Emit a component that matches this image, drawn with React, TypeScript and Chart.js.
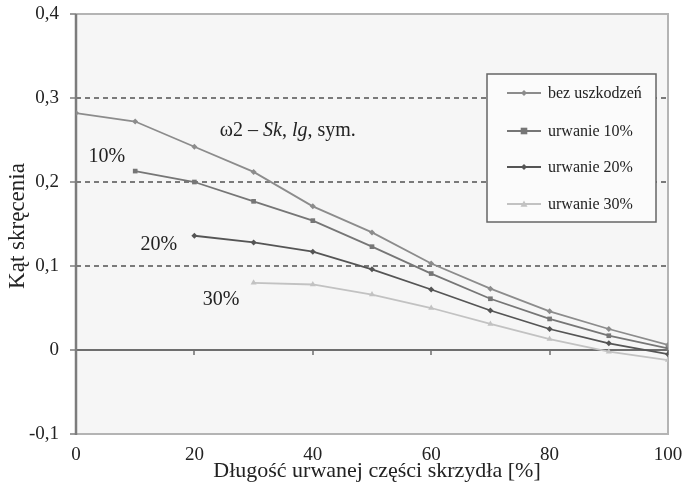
import React, { useEffect, useRef } from "react";
import { Chart, registerables } from "chart.js";

Chart.register(...registerables);

const xValues = [0, 10, 20, 30, 40, 50, 60, 70, 80, 90, 100];
const seriesNames = ["bez uszkodzeń", "urwanie 10%", "urwanie 20%", "urwanie 30%"];
const bezUszkodzen = [0.282, 0.272, 0.242, 0.212, 0.171, 0.140, 0.103, 0.073, 0.046, 0.025, 0.006];
const urwanie10 = [null, 0.213, 0.200, 0.177, 0.154, 0.123, 0.091, 0.061, 0.037, 0.017, 0.002];
const urwanie20 = [null, null, 0.136, 0.128, 0.117, 0.096, 0.072, 0.047, 0.025, 0.008, -0.005];
const urwanie30 = [null, null, null, 0.080, 0.078, 0.066, 0.050, 0.031, 0.013, -0.002, -0.012];
const yTicks = [-0.1, 0, 0.1, 0.2, 0.3, 0.4];
const dashedLevels = [0.1, 0.2, 0.3];
const xTitle = "Długość urwanej części skrzydła [%]";
const yTitle = "Kąt skręcenia";
const curveLabels = [
  { text: "10%", x: 5.2, y: 0.23 },
  { text: "20%", x: 14, y: 0.125 },
  { text: "30%", x: 24.5, y: 0.06 },
];

const FONT = '"Liberation Serif", "Times New Roman", serif';

const toPoints = (arr: (number | null)[]) =>
  xValues.map((x, i) => ({ x, y: arr[i] as any }));

const styles = [
  { color: "#8c8c8c", point: "rectRot", r: 3 },
  { color: "#767676", point: "rect", r: 3.3 },
  { color: "#555555", point: "rectRot", r: 3 },
  { color: "#c2c2c2", point: "triangle", r: 3.5 },
];

const decor = {
  id: "decor",
  beforeDatasetsDraw(chart: any) {
    const { ctx, chartArea: a, scales } = chart;
    const xs = scales.x, ys = scales.y;
    ctx.save();
    ctx.fillStyle = "#f6f6f6";
    ctx.fillRect(a.left, a.top, a.right - a.left, a.bottom - a.top);
    // outer frame
    ctx.strokeStyle = "#b4b4b4";
    ctx.lineWidth = 2;
    ctx.beginPath();
    ctx.moveTo(a.left, a.top);
    ctx.lineTo(a.right, a.top);
    ctx.lineTo(a.right, a.bottom);
    ctx.lineTo(a.left, a.bottom);
    ctx.stroke();
    // dashed lines
    ctx.strokeStyle = "#7a7a7a";
    ctx.lineWidth = 2;
    ctx.setLineDash([5, 4]);
    for (const v of dashedLevels) {
      const y = Math.round(ys.getPixelForValue(v));
      ctx.beginPath();
      ctx.moveTo(a.left, y);
      ctx.lineTo(a.right, y);
      ctx.stroke();
    }
    ctx.setLineDash([]);
    // zero line
    const y0 = Math.round(ys.getPixelForValue(0));
    ctx.strokeStyle = "#6e6e6e";
    ctx.lineWidth = 2;
    ctx.beginPath();
    ctx.moveTo(a.left, y0);
    ctx.lineTo(a.right, y0);
    ctx.stroke();
    // x tick marks on zero line
    ctx.lineWidth = 1.5;
    for (const v of [20, 40, 60, 80, 100]) {
      const x = Math.round(xs.getPixelForValue(v));
      ctx.beginPath();
      ctx.moveTo(x, y0);
      ctx.lineTo(x, y0 + 5);
      ctx.stroke();
    }
    // left axis
    ctx.strokeStyle = "#7c7c7c";
    ctx.lineWidth = 2.5;
    ctx.beginPath();
    ctx.moveTo(a.left, a.top);
    ctx.lineTo(a.left, a.bottom + 1);
    ctx.stroke();
    // y tick marks
    ctx.lineWidth = 1.5;
    for (const v of yTicks) {
      const y = Math.round(ys.getPixelForValue(v));
      ctx.beginPath();
      ctx.moveTo(a.left - 6, y);
      ctx.lineTo(a.left, y);
      ctx.stroke();
    }
    ctx.restore();
  },
  afterDraw(chart: any) {
    const { ctx, chartArea: a, scales } = chart;
    const xs = scales.x, ys = scales.y;
    ctx.save();
    ctx.fillStyle = "#222";
    // axis titles
    ctx.font = `22px ${FONT}`;
    ctx.textAlign = "center";
    ctx.textBaseline = "middle";
    ctx.fillText(xTitle, 377, 471);
    ctx.save();
    ctx.font = `23px ${FONT}`;
    ctx.translate(18, 226);
    ctx.rotate(-Math.PI / 2);
    ctx.fillText(yTitle, 0, 0);
    ctx.restore();
    // curve labels
    ctx.font = `20px ${FONT}`;
    for (const l of curveLabels) {
      ctx.fillText(l.text, xs.getPixelForValue(l.x), ys.getPixelForValue(l.y));
    }
    // annotation title with italics
    const parts = [
      { t: "ω2 – ", it: false },
      { t: "Sk", it: true },
      { t: ", ", it: false },
      { t: "lg", it: true },
      { t: ", sym.", it: false },
    ];
    let px = xs.getPixelForValue(24.3);
    const py = ys.getPixelForValue(0.261);
    ctx.textAlign = "left";
    for (const p of parts) {
      ctx.font = `${p.it ? "italic " : ""}20px ${FONT}`;
      ctx.fillText(p.t, px, py);
      px += ctx.measureText(p.t).width;
    }
    // legend box
    const bx = a.right - 181, by = a.top + 60, bw = 169, bh = 148;
    ctx.fillStyle = "#fbfbfb";
    ctx.fillRect(bx, by, bw, bh);
    ctx.strokeStyle = "#666";
    ctx.lineWidth = 1.5;
    ctx.strokeRect(bx, by, bw, bh);
    const rows = [19, 57, 93, 130];
    ctx.font = `16px ${FONT}`;
    ctx.textBaseline = "middle";
    chart.data.datasets.forEach((ds: any, i: number) => {
      const y = by + rows[i];
      ctx.strokeStyle = ds.borderColor;
      ctx.lineWidth = 1.8;
      ctx.beginPath();
      ctx.moveTo(bx + 20, y);
      ctx.lineTo(bx + 54, y);
      ctx.stroke();
      ctx.fillStyle = ds.pointBackgroundColor;
      const cx = bx + 37;
      const r = ds.pointRadius;
      ctx.beginPath();
      if (ds.pointStyle === "rect") {
        ctx.rect(cx - r, y - r, 2 * r, 2 * r);
      } else if (ds.pointStyle === "triangle") {
        ctx.moveTo(cx, y - r);
        ctx.lineTo(cx + r, y + r * 0.8);
        ctx.lineTo(cx - r, y + r * 0.8);
        ctx.closePath();
      } else {
        ctx.moveTo(cx, y - r);
        ctx.lineTo(cx + r, y);
        ctx.lineTo(cx, y + r);
        ctx.lineTo(cx - r, y);
        ctx.closePath();
      }
      ctx.fill();
      ctx.fillStyle = "#222";
      ctx.fillText(ds.label, bx + 61, y + 1);
    });
    ctx.restore();
  },
};

export default function App() {
  const ref = useRef<HTMLCanvasElement>(null);
  useEffect(() => {
    if (!ref.current) return;
    const seriesData = [bezUszkodzen, urwanie10, urwanie20, urwanie30];
    const chart = new Chart(ref.current, {
      type: "line",
      data: {
        datasets: seriesData.map((arr, i) => ({
          label: seriesNames[i],
          data: toPoints(arr),
          borderColor: styles[i].color,
          backgroundColor: styles[i].color,
          pointBackgroundColor: styles[i].color,
          pointBorderColor: styles[i].color,
          pointStyle: styles[i].point as any,
          pointRadius: styles[i].r,
          pointBorderWidth: 0,
          borderWidth: 1.8,
          tension: 0,
          spanGaps: false,
        })),
      },
      options: {
        animation: false,
        responsive: false,
        layout: { padding: { top: 14, right: 14, left: 0, bottom: 0 } },
        plugins: { legend: { display: false }, tooltip: { enabled: false } },
        scales: {
          x: {
            type: "linear",
            min: 0,
            max: 100,
            grid: { display: false },
            border: { display: false },
            ticks: {
              stepSize: 20,
              padding: 2,
              color: "#222",
              font: { family: FONT, size: 19 },
              maxRotation: 0,
            },
            afterFit: (s: any) => { s.height = 60; s.paddingLeft = 0; s.paddingRight = 0; },
          },
          y: {
            min: -0.1,
            max: 0.4,
            grid: { display: false },
            border: { display: false },
            ticks: {
              stepSize: 0.1,
              padding: 9,
              color: "#222",
              font: { family: FONT, size: 19 },
              callback: (v: any) => {
                const n = Math.round(Number(v) * 10) / 10;
                return n === 0 ? "0" : n.toFixed(1).replace(".", ",");
              },
            },
            afterFit: (s: any) => { s.width = 76; s.paddingTop = 0; s.paddingBottom = 0; },
          },
        },
      },
      plugins: [decor],
    });
    return () => chart.destroy();
  }, []);
  return (
    <div style={{ position: "fixed", left: 0, top: 0, width: 682, height: 494, background: "#fff" }}>
      <canvas ref={ref} width={682} height={494} style={{ display: "block" }} />
    </div>
  );
}
